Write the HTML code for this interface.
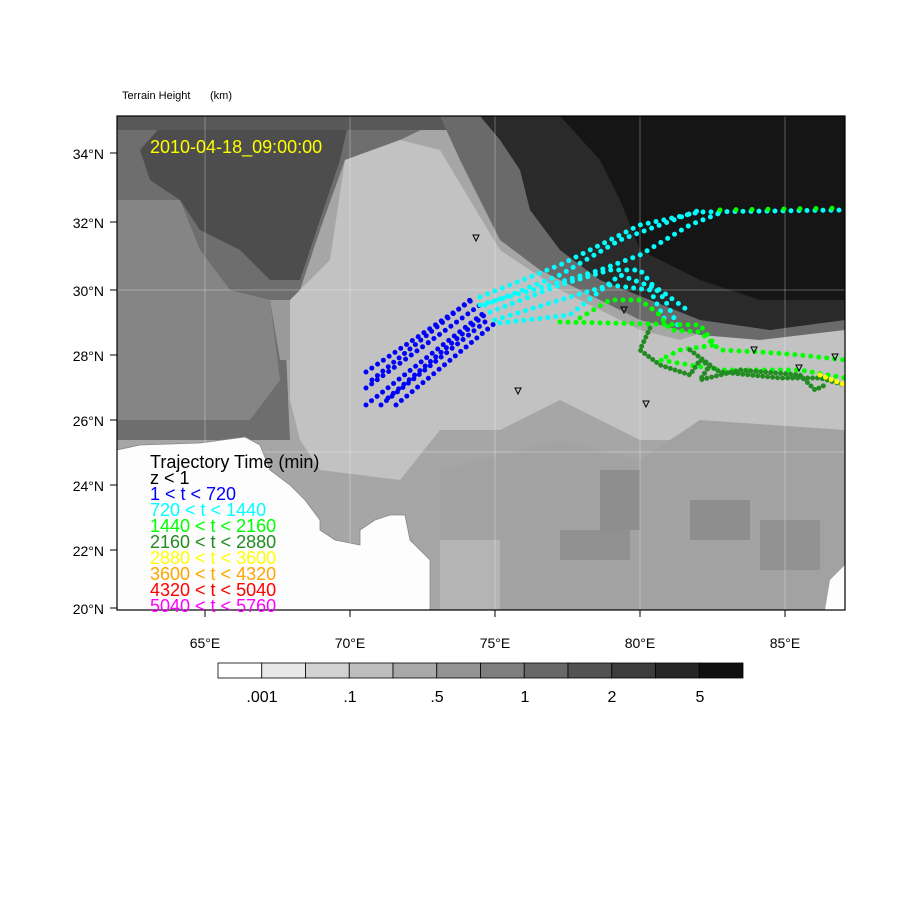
<!DOCTYPE html>
<html><head><style>
body{margin:0;background:#fff;}
svg{display:block;font-family:"Liberation Sans",sans-serif;}
</style></head><body>
<svg width="900" height="900" xmlns="http://www.w3.org/2000/svg">
<text x="122" y="99" font-size="11">Terrain Height</text><text x="210" y="99" font-size="11">(km)</text>
<defs><clipPath id="c"><rect x="117" y="116" width="728" height="494"/></clipPath></defs>
<g clip-path="url(#c)">
<rect x="117" y="116" width="728" height="494" fill="#a6a6a6"/>
<polygon points="117,116 450,116 400,140 345,160 320,230 300,290 285,330 290,440 117,440" fill="#6e6e6e"/>
<polygon points="117,200 180,200 200,250 230,290 270,300 280,380 250,420 117,420" fill="#858585"/>
<polygon points="170,116 350,116 340,160 320,220 300,280 270,280 240,250 200,230 180,200 150,180 140,150" fill="#4d4d4d"/>
<polygon points="117,116 450,116 450,130 117,130" fill="#585858"/>
<polygon points="270,300 295,300 290,360 280,360" fill="#9a9a9a"/>
<polygon points="290,300 300,290 330,260 345,160 400,140 440,150 470,200 500,250 560,290 600,310 640,330 680,340 740,320 845,330 845,440 640,440 600,420 560,400 500,430 440,430 400,480 320,470 300,440 290,400" fill="#c2c2c2"/>
<polygon points="440,116 845,116 845,330 760,340 700,335 640,320 600,300 540,270 500,240 480,200 460,160" fill="#6a6a6a"/>
<polygon points="480,116 845,116 845,320 770,330 700,320 650,300 600,280 560,250 530,210 520,170 500,140" fill="#2a2a2a"/>
<polygon points="560,116 845,116 845,300 760,300 700,280 640,250 620,200 600,160" fill="#151515"/>
<polygon points="440,470 560,440 640,460 700,420 845,430 845,610 450,610 440,540" fill="#a2a2a2"/>
<rect x="600" y="470" width="40" height="60" fill="#8e8e8e"/>
<rect x="560" y="530" width="70" height="30" fill="#909090"/>
<rect x="690" y="500" width="60" height="40" fill="#8e8e8e"/>
<rect x="760" y="520" width="60" height="50" fill="#929292"/>
<rect x="440" y="540" width="60" height="70" fill="#b4b4b4"/>
<polygon points="117,450 140,445 200,443 245,437 260,445 270,470 290,485 305,500 320,520 320,530 335,540 360,545 360,530 375,520 390,515 405,515 410,540 430,560 430,610 117,610" fill="#fdfdfd" stroke="#888" stroke-width="0.8"/>
<polygon points="830,580 845,565 845,610 825,610" fill="#fdfdfd"/>
<g stroke="#ffffff" stroke-opacity="0.3" stroke-width="1">
<line x1="205" y1="116" x2="205" y2="610"/><line x1="350" y1="116" x2="350" y2="610"/><line x1="495" y1="116" x2="495" y2="610"/><line x1="640" y1="116" x2="640" y2="610"/><line x1="785" y1="116" x2="785" y2="610"/>
<line x1="117" y1="290" x2="845" y2="290"/><line x1="117" y1="452" x2="845" y2="452"/>
</g>
<g fill="none" stroke-linecap="round" stroke-width="5">
<g stroke="#0000ff" stroke-dasharray="0 7">
<path d="M366,372 L475,298"/><path d="M366,388 L480,305"/><path d="M366,405 L485,312"/><path d="M381,405 L490,318"/><path d="M396,405 L495,323"/><path d="M372,380 L470,300"/><path d="M388,398 L488,312"/>
</g>
<g stroke="#00ffff" stroke-dasharray="0 8">
<path d="M480,297 L560,265 L640,225 L700,212 L845,210"/>
<path d="M485,305 L560,275 L620,240 L700,210"/>
<path d="M490,312 L560,285 L610,270 L640,270 L665,300 L680,330"/>
<path d="M495,320 L560,300 L610,285 L650,290 L665,320"/>
<path d="M500,323 L570,315 L620,275 L660,290 L690,312"/>
<path d="M480,305 L550,285 L600,270 L640,255 L690,225 L720,213"/>
</g>
<g stroke="#00ff00" stroke-dasharray="0 8">
<path d="M580,318 L610,300 L640,300 L660,315 L670,330 L700,332 L720,350 L760,352 L800,355 L845,360"/>
<path d="M560,322 L700,325 L715,345 L680,350 L660,360 L720,370 L800,370 L845,378"/>
<path d="M720,210 L845,208" stroke-dasharray="0 16"/>
</g>
<g stroke="#228b22" stroke-dasharray="0 5">
<path d="M650,328 L640,350 L660,365 L690,375 L700,360 L720,372 L780,378 L820,378 L845,385"/>
<path d="M690,350 L710,365 L700,380 L740,370 L800,375 L815,390 L825,385"/>
</g>
<path d="M820,375 L845,385" stroke="#ffff00" stroke-dasharray="0 6"/>
</g>
<g fill="none" stroke="#000" stroke-width="1">
<path d="M473,235 l6,0 l-3,6z"/><path d="M515,388 l6,0 l-3,6z"/><path d="M621,307 l6,0 l-3,6z"/><path d="M643,401 l6,0 l-3,6z"/><path d="M751,347 l6,0 l-3,6z"/><path d="M796,365 l6,0 l-3,6z"/><path d="M832,354 l6,0 l-3,6z"/>
</g>
<text x="150" y="153" font-size="18" fill="#ffff00">2010-04-18_09:00:00</text>
</g>
<rect x="117" y="116" width="728" height="494" fill="none" stroke="#000" stroke-width="1.2"/>
<g font-size="18">
<text x="150" y="468">Trajectory Time (min)</text>
<text x="150" y="484">z &lt; 1</text>
<text x="150" y="500" fill="#0000ff">1 &lt; t &lt; 720</text>
<text x="150" y="516" fill="#00ffff">720 &lt; t &lt; 1440</text>
<text x="150" y="532" fill="#00ff00">1440 &lt; t &lt; 2160</text>
<text x="150" y="548" fill="#228b22">2160 &lt; t &lt; 2880</text>
<text x="150" y="564" fill="#ffff00">2880 &lt; t &lt; 3600</text>
<text x="150" y="580" fill="#ffa500">3600 &lt; t &lt; 4320</text>
<text x="150" y="596" fill="#ff0000">4320 &lt; t &lt; 5040</text>
<text x="150" y="612" fill="#ff00ff">5040 &lt; t &lt; 5760</text>
</g>
<g stroke="#000" stroke-width="1">
<line x1="110" y1="153" x2="117" y2="153"/><line x1="110" y1="222" x2="117" y2="222"/><line x1="110" y1="290" x2="117" y2="290"/><line x1="110" y1="355" x2="117" y2="355"/><line x1="110" y1="420" x2="117" y2="420"/><line x1="110" y1="485" x2="117" y2="485"/><line x1="110" y1="550" x2="117" y2="550"/><line x1="110" y1="608" x2="117" y2="608"/>
<line x1="205" y1="610" x2="205" y2="617"/><line x1="350" y1="610" x2="350" y2="617"/><line x1="495" y1="610" x2="495" y2="617"/><line x1="640" y1="610" x2="640" y2="617"/><line x1="785" y1="610" x2="785" y2="617"/>
</g>
<g font-size="14" text-anchor="end">
<text x="104" y="159">34°N</text><text x="104" y="228">32°N</text><text x="104" y="296">30°N</text><text x="104" y="361">28°N</text><text x="104" y="426">26°N</text><text x="104" y="491">24°N</text><text x="104" y="556">22°N</text><text x="104" y="614">20°N</text>
</g>
<g font-size="14" text-anchor="middle">
<text x="205" y="648">65°E</text><text x="350" y="648">70°E</text><text x="495" y="648">75°E</text><text x="640" y="648">80°E</text><text x="785" y="648">85°E</text>
</g>
<g stroke="#000" stroke-width="0.8">
<rect x="218" y="663" width="43.75" height="15" fill="#ffffff"/>
<rect x="261.75" y="663" width="43.75" height="15" fill="#e8e8e8"/>
<rect x="305.5" y="663" width="43.75" height="15" fill="#d2d2d2"/>
<rect x="349.25" y="663" width="43.75" height="15" fill="#bdbdbd"/>
<rect x="393" y="663" width="43.75" height="15" fill="#a8a8a8"/>
<rect x="436.75" y="663" width="43.75" height="15" fill="#939393"/>
<rect x="480.5" y="663" width="43.75" height="15" fill="#7e7e7e"/>
<rect x="524.25" y="663" width="43.75" height="15" fill="#686868"/>
<rect x="568" y="663" width="43.75" height="15" fill="#525252"/>
<rect x="611.75" y="663" width="43.75" height="15" fill="#3c3c3c"/>
<rect x="655.5" y="663" width="43.75" height="15" fill="#262626"/>
<rect x="699.25" y="663" width="43.75" height="15" fill="#101010"/>
</g>
<g font-size="16" text-anchor="middle">
<text x="262" y="702">.001</text><text x="350" y="702">.1</text><text x="437" y="702">.5</text><text x="525" y="702">1</text><text x="612" y="702">2</text><text x="700" y="702">5</text>
</g>
</svg>
</body></html>
